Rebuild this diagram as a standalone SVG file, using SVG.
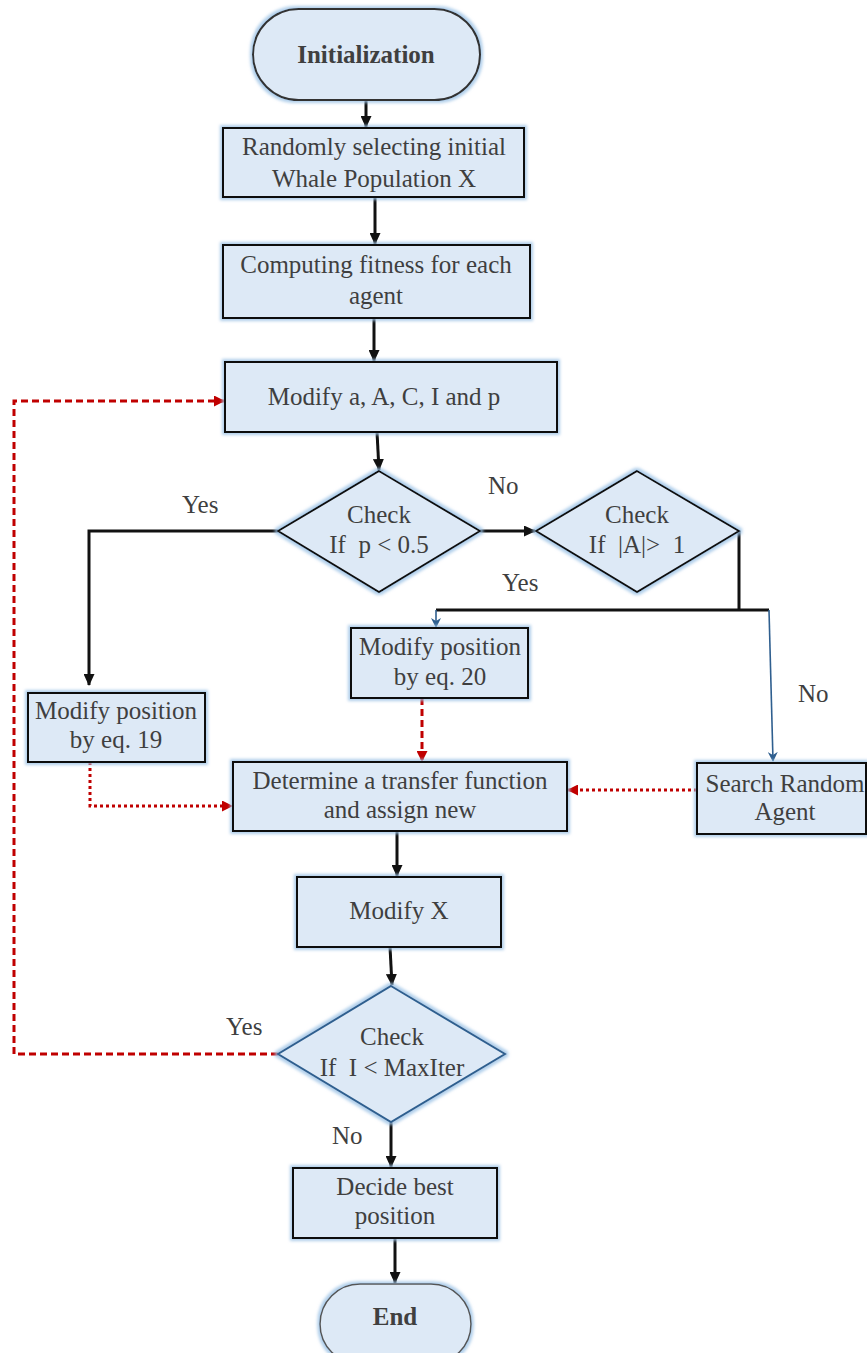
<svg xmlns="http://www.w3.org/2000/svg" width="867" height="1353" viewBox="0 0 867 1353">
<style>
.box{fill:#dde9f6;stroke:#111;stroke-width:2}
.dia{fill:#dde9f6;stroke:#111;stroke-width:2}
.dia3{fill:#dde9f6;stroke:#2f5f8f;stroke-width:2}
.pill{fill:#dde9f6;stroke:#333;stroke-width:2}
text{font-family:"Liberation Serif","Times New Roman",serif;font-size:25px;fill:#3f3f3f;text-anchor:middle}
.b{font-weight:bold}
.lbl{text-anchor:start}
.k{fill:none;stroke:#111;stroke-width:3}
.bl{fill:none;stroke:#2f5f8f;stroke-width:1.6}
.rd{fill:none;stroke:#c00000;stroke-width:3;stroke-dasharray:7 4}
.rt{fill:none;stroke:#c00000;stroke-width:3;stroke-dasharray:3 3}
</style>
<defs>
<filter id="glow" x="-10%" y="-10%" width="120%" height="120%">
<feMorphology in="SourceAlpha" operator="dilate" radius="2" result="d"/>
<feGaussianBlur in="d" stdDeviation="1.5" result="bl"/>
<feFlood flood-color="#9dc3e6" flood-opacity="0.8"/>
<feComposite in2="bl" operator="in" result="g"/>
<feMerge><feMergeNode in="g"/><feMergeNode in="SourceGraphic"/></feMerge>
</filter>
<marker id="ak" markerWidth="12" markerHeight="11" refX="11" refY="5.5" orient="auto" markerUnits="userSpaceOnUse" viewBox="0 0 12 11"><path d="M0,0 L12,5.5 L0,11 z" fill="#111"/></marker>
<marker id="ar" markerWidth="11" markerHeight="11" refX="10" refY="5.5" orient="auto" markerUnits="userSpaceOnUse" viewBox="0 0 11 11"><path d="M0,0 L11,5.5 L0,11 z" fill="#c00000"/></marker>
<marker id="ab" markerWidth="10" markerHeight="10" refX="9" refY="5" orient="auto" markerUnits="userSpaceOnUse" viewBox="0 0 10 10"><path d="M0,0 L10,5 L0,10 L3,5 z" fill="#2f5f8f"/></marker>
</defs>

<g id="connectors">
<path class="k" d="M366,100 V127" marker-end="url(#ak)"/>
<path class="k" d="M375,197 V244" marker-end="url(#ak)"/>
<path class="k" d="M374,318 V361" marker-end="url(#ak)"/>
<path class="k" d="M377,432 L379,470" marker-end="url(#ak)"/>
<path class="k" d="M480,531 H535" marker-end="url(#ak)"/>
<path class="k" d="M278,531 H89 V685" marker-end="url(#ak)"/>
<path class="k" d="M739,531 V610"/>
<path class="k" d="M436,610 H769"/>
<path class="bl" d="M436,610 V627" marker-end="url(#ab)"/>
<path class="bl" d="M769,610 L773,761" marker-end="url(#ab)"/>
<path class="rd" d="M422,698 V761" marker-end="url(#ar)"/>
<path class="rt" d="M697,790 H568" marker-end="url(#ar)"/>
<path class="rt" d="M90,762 V806 H232" marker-end="url(#ar)"/>
<path class="k" d="M397,831 V876" marker-end="url(#ak)"/>
<path class="k" d="M390,947 L392,985" marker-end="url(#ak)"/>
<path class="rd" d="M278,1054 H14 V401 H224" marker-end="url(#ar)"/>
<path class="k" d="M391,1122 V1167" marker-end="url(#ak)"/>
<path class="k" d="M395,1238 V1283" marker-end="url(#ak)"/>
</g>

<g id="init"><rect class="pill" filter="url(#glow)" x="253" y="9" width="227" height="91" rx="45.5"/><text class="b" x="366" y="63">Initialization</text></g>
<g id="select"><rect class="box" filter="url(#glow)" x="223" y="128" width="301" height="69"/><text x="374" y="155">Randomly selecting initial</text><text x="374" y="187">Whale Population X</text></g>
<g id="fitness"><rect class="box" filter="url(#glow)" x="223" y="245" width="307" height="73"/><text x="376" y="273">Computing fitness for each</text><text x="376" y="304">agent</text></g>
<g id="modify"><rect class="box" filter="url(#glow)" x="225" y="362" width="332" height="70"/><text x="384" y="405">Modify a, A, C, I and p</text></g>
<g id="check1"><polygon class="dia" filter="url(#glow)" points="379,471 480,531 379,592 278,531"/><text x="379" y="523">Check</text><text x="379" y="553" xml:space="preserve">If  p &lt; 0.5</text></g>
<g id="check2"><polygon class="dia" filter="url(#glow)" points="637,471 739,531 637,592 536,531"/><text x="637" y="523">Check</text><text x="637" y="553" xml:space="preserve">If  |A|&gt;  1</text></g>
<g id="eq19"><rect class="box" filter="url(#glow)" x="28" y="693" width="177" height="69"/><text x="116" y="719">Modify position</text><text x="116" y="748">by eq. 19</text></g>
<g id="eq20"><rect class="box" filter="url(#glow)" x="351" y="628" width="177" height="70"/><text x="440" y="655">Modify position</text><text x="440" y="685">by eq. 20</text></g>
<g id="search"><rect class="box" filter="url(#glow)" x="697" y="763" width="169" height="71"/><text x="785" y="792">Search Random</text><text x="785" y="820">Agent</text></g>
<g id="transfer"><rect class="box" filter="url(#glow)" x="233" y="762" width="334" height="69"/><text x="400" y="789">Determine a transfer function</text><text x="400" y="818">and assign new</text></g>
<g id="modx"><rect class="box" filter="url(#glow)" x="297" y="877" width="204" height="70"/><text x="399" y="919">Modify X</text></g>
<g id="check3"><polygon class="dia3" filter="url(#glow)" points="391,986 505,1054 391,1122 278,1054"/><text x="392" y="1045">Check</text><text x="392" y="1076" xml:space="preserve">If  I &lt; MaxIter</text></g>
<g id="decide"><rect class="box" filter="url(#glow)" x="293" y="1168" width="204" height="70"/><text x="395" y="1195">Decide best</text><text x="395" y="1224">position</text></g>
<g id="end"><rect class="pill" filter="url(#glow)" x="320" y="1284" width="151" height="80" rx="40" style="stroke:#555;stroke-width:1.5"/><text class="b" x="395" y="1325">End</text></g>

<g id="labels">
<text class="lbl" x="182" y="513">Yes</text>
<text class="lbl" x="488" y="494">No</text>
<text class="lbl" x="502" y="591">Yes</text>
<text class="lbl" x="798" y="702">No</text>
<text class="lbl" x="226" y="1035">Yes</text>
<text class="lbl" x="332" y="1144">No</text>
</g>
</svg>
